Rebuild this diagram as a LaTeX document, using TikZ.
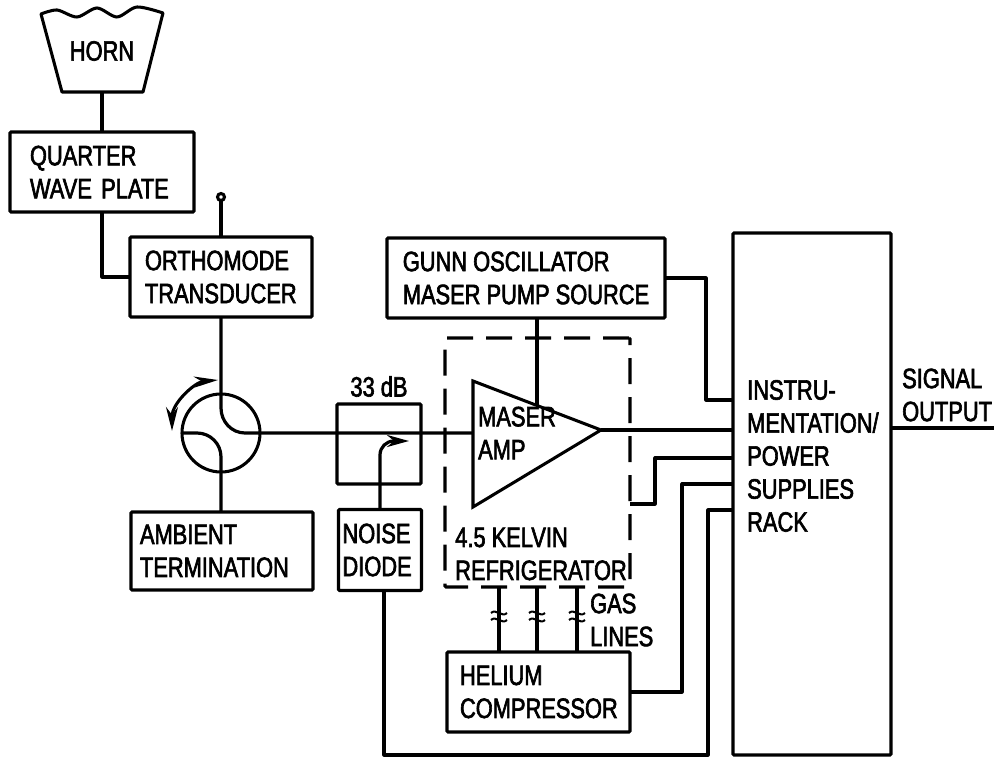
\documentclass[tikz,border=0pt]{standalone}
\usepackage{fontspec}
\setmainfont[FakeStretch=0.78,FakeBold=2.2]{Liberation Sans}
\usetikzlibrary{arrows.meta,positioning,calc}
\tikzset{
    netbox/.style={draw, line width=3.05pt, rounded corners=1pt, outer sep=0pt, inner xsep=0pt,
        align=left, font=\fontsize{28}{33}\selectfont},
    netlabel/.style={align=left, inner sep=0pt, font=\fontsize{28}{33}\selectfont},
    netline/.style={line width=3.2pt, line join=round},
    netarrow/.style={-{Stealth[length=22pt,width=12pt]}, line width=3.2pt},
    spinarrow/.style={{Stealth[length=24pt,width=11pt]}-{Stealth[length=24pt,width=12pt]}, line width=3.05pt}
}

\begin{document}
\begin{tikzpicture}[x=1pt,y=-1pt]
\useasboundingbox (0,0) rectangle (994,757);
% horn
\node[netlabel] (horn) at (102,51) {HORN};
\draw[line width=3.05pt, line join=round] plot[smooth] coordinates {(41,14) (57,10) (77,17) (97,8) (117,17) (137,7) (163,13)}
    -- (143,92) -- (62,92) -- cycle;
\coordinate (hornfoot) at (102,92);
% boxes
\node[netbox, minimum width=184pt, minimum height=80pt, text width=144pt] (plate) at (102,172) {QUARTER\\WAVE PLATE};
\node[netbox, minimum width=182pt, minimum height=80pt, text width=152pt] (ortho) at (221,277) {ORTHOMODE\\TRANSDUCER};
\node[netbox, minimum width=182pt, minimum height=78pt, text width=164pt] (ambient) at (222,551) {AMBIENT\\TERMINATION};
\node[netbox, minimum width=84pt, minimum height=80pt] (pad) at (379,444) {};
\node[netlabel, above=7pt of pad] (padlabel) {33 dB};
\node[netbox, minimum width=83pt, minimum height=81pt, text width=75pt] (diode) at (380,550) {NOISE\\DIODE};
\node[netbox, minimum width=278pt, minimum height=80pt] (gunn) at (526,278) {GUNN OSCILLATOR\\MASER PUMP SOURCE};
\node[netbox, dash pattern=on 26pt off 13pt, minimum width=185pt, minimum height=249pt] (fridge) at (537.5,462.5) {};
\node[netlabel] (fridgelabel) at (541,554) {4.5 KELVIN\\REFRIGERATOR};
\node[netbox, minimum width=183pt, minimum height=80pt, text width=157pt] (helium) at (538.5,692) {HELIUM\\COMPRESSOR};
\node[netbox, minimum width=158pt, minimum height=522pt] (rack) at (812,494) {};
\node[netlabel, anchor=west] (racklabel) at (747,456) {INSTRU-\\MENTATION/\\POWER\\SUPPLIES\\RACK};
\node[netlabel, anchor=west] (gaslabel) at (590,620) {GAS\\LINES};
\node[netlabel, anchor=west] (signal) at (902,395) {SIGNAL\\OUTPUT};
% circulator
\node[circle, draw, line width=3.05pt, minimum size=78pt, inner sep=0pt, outer sep=0pt] (circ) at (221,433) {};
\draw[spinarrow] (218,380) .. controls (195,382) and (172,403) .. (172,431);
% amplifier
\coordinate (ampnw) at (473,381);
\coordinate (ampsw) at (473,507);
\coordinate (ampin) at (473,433);
\coordinate (apex) at (601,430);
\coordinate (amptop) at (537,406);
\draw[line width=3.05pt, line join=miter] (ampnw) -- (apex) -- (ampsw) -- cycle;
\node[netlabel, anchor=west] (amplabel) at (478,433) {MASER\\AMP};
% signal path
\draw[netline] (hornfoot) -- (plate.north -| hornfoot);
\draw[netline] (plate.south -| hornfoot) |- (ortho.west);
\coordinate (probe) at (221,197);
\draw[line width=3.05pt] (probe) circle (3.5pt);
\draw[netline] (ortho.north) -- ($(probe)+(0,4)$);
\draw[netline] (ortho.south) -- (221,408) to[out=-90,in=180] (245,433) -- (ampin);
\draw[netline] (circ.west) -- (197,433) to[out=0,in=90] (221,457) -- (ambient.north -| circ);
\draw[netarrow, rounded corners=14pt] (diode.north -| 380,0) -- (380,441) -- (409,441);
% rack connections
\draw[netline] (apex) -- (rack.west |- apex);
\coordinate (gunnup) at (706,400);
\draw[netline] (gunn.east) -| (gunnup) -- (rack.west |- gunnup);
\draw[netline] (gunn.south -| amptop) -- (amptop);
\coordinate (fridgeout) at (655,458);
\draw[netline] (fridge.east |- 0,504) -| (fridgeout) -- (rack.west |- fridgeout);
\coordinate (heliumout) at (682,484);
\draw[netline] (helium.east) -| (heliumout) -- (rack.west |- heliumout);
\coordinate (diodeout) at (708,510);
\draw[netline] (diode.south -| 384,0) |- (708,755) -- (diodeout) -- (rack.west |- diodeout);
\draw[netline] (rack.east |- 0,428) -- (994,428);
% gas lines
\foreach \gasx [count=\n] in {499,537,577} {
    \coordinate (gas\n) at (\gasx,616);
    \draw[netline] (fridge.south -| gas\n) -- (helium.north -| gas\n);
    \foreach \gasy in {-3,4}
        \draw[line width=2pt, fill=none] ($(gas\n)+(-8,\gasy)$) .. controls ($(gas\n)+(-3,\gasy-5)$) and ($(gas\n)+(3,\gasy+5)$) .. ($(gas\n)+(8,\gasy)$);
}
\end{tikzpicture}
\end{document}
